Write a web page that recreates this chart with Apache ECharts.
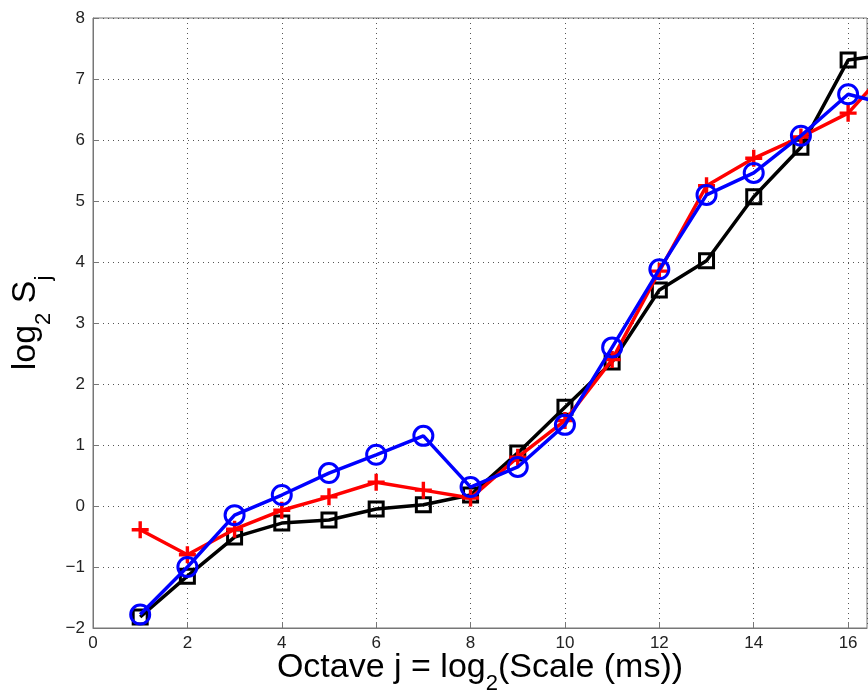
<!DOCTYPE html>
<html><head><meta charset="utf-8">
<script src="https://cdn.jsdelivr.net/npm/echarts@6/dist/echarts.min.js"></script>
<style>html,body{margin:0;padding:0;background:#fff}#c{width:868px;height:691px}</style>
</head><body><div id="c"></div>
<script>
const octaves = [1,2,3,4,5,6,7,8,9,10,11,12,13,14,15,16,17];
const blackSquares = [-1.82,-1.15,-0.51,-0.28,-0.23,-0.05,0.02,0.18,0.87,1.62,2.36,3.54,4.02,5.07,5.88,7.31,7.42];
const redPlus = [-0.39,-0.80,-0.38,-0.07,0.15,0.39,0.26,0.13,0.80,1.40,2.40,3.85,5.25,5.70,6.05,6.44,7.30];
const blueCircles = [-1.78,-1.00,-0.15,0.18,0.54,0.84,1.15,0.31,0.64,1.33,2.60,3.88,5.10,5.46,6.07,6.75,6.55];
const xTicks = [0,2,4,6,8,10,12,14,16];
const yTicks = [-2,-1,0,1,2,3,4,5,6,7,8];

const pair = arr => octaves.map((j,i)=>[j, arr[i]]);
const plusPath = 'path://M4,0h2v4h4v2h-4v4h-2v-4h-4v-2h4z';
const gridLine = {show:true, lineStyle:{color:'#555', type:[1,4], width:1}};
const chart = echarts.init(document.getElementById('c'), null, {renderer:'canvas'});
chart.setOption({
  animation:false,
  backgroundColor:'#fff',
  grid:{left:93, top:18, right:1, bottom:63, show:true, borderColor:'#777', borderWidth:1,
    containLabel:false, outerBoundsMode:'none'},
  xAxis:{type:'value', min:0, max:16.4, interval:2,
    axisLine:{show:true, onZero:false, lineStyle:{color:'#777'}},
    axisTick:{show:true, inside:true, length:6, lineStyle:{color:'#777'}},
    axisLabel:{showMaxLabel:false, color:'#222', fontSize:17, fontFamily:'Liberation Sans', margin:7,
      formatter:v=> xTicks.includes(v)? String(v):''},
    splitLine:gridLine,
    name:'{m|Octave j = log}{s|2}{m|(Scale (ms))}', nameLocation:'middle', nameGap:19, nameMoveOverlap:false,
    nameTextStyle:{verticalAlign:'top', rich:{m:{fontSize:34, fontFamily:'Liberation Sans', color:'#000', lineHeight:38, verticalAlign:'bottom'},
      s:{fontSize:22, fontFamily:'Liberation Sans', color:'#000', lineHeight:38, verticalAlign:'bottom', padding:[0,0,-10,0]}}}
  },
  yAxis:{type:'value', min:-2, max:8, interval:1,
    axisLine:{show:true, onZero:false, lineStyle:{color:'#777'}},
    axisTick:{show:true, inside:true, length:6, lineStyle:{color:'#777'}},
    axisLabel:{color:'#222', fontSize:17, fontFamily:'Liberation Sans', margin:8,
      formatter:v=> yTicks.includes(v)? String(v).replace('-','\u2212'):''},
    splitLine:gridLine,
    name:'{m|log}{s|2}{m| S}{s|j}', nameLocation:'middle', nameGap:50, nameRotate:90, nameMoveOverlap:false,
    nameTextStyle:{rich:{m:{fontSize:34, fontFamily:'Liberation Sans', color:'#000', lineHeight:40, verticalAlign:'bottom'},
      s:{fontSize:22, fontFamily:'Liberation Sans', color:'#000', lineHeight:40, verticalAlign:'bottom', padding:[0,0,-12,0]}}}
  },
  series:[
    {type:'line', data:pair(blackSquares), symbol:'rect', symbolSize:14, z:2,
      lineStyle:{color:'#000', width:3.5}, itemStyle:{color:'rgba(0,0,0,0)', borderColor:'#000', borderWidth:3}},
    {type:'line', data:pair(redPlus), symbol:plusPath, symbolSize:17, z:3,
      lineStyle:{color:'#f00', width:3.5}, itemStyle:{color:'#f00', borderWidth:0}},
    {type:'line', data:pair(blueCircles), symbol:'circle', symbolSize:19, z:4,
      lineStyle:{color:'#00f', width:3.5}, itemStyle:{color:'rgba(0,0,0,0)', borderColor:'#00f', borderWidth:3}}
  ]
});
</script></body></html>
